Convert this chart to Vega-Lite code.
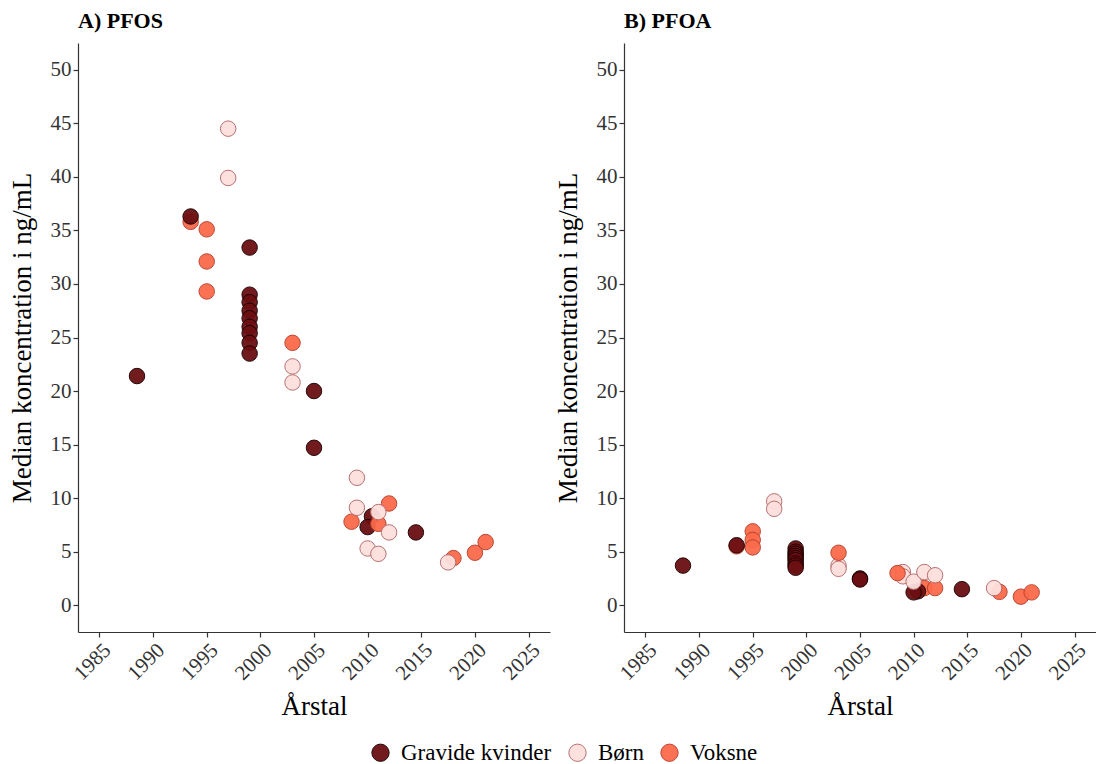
{
  "$schema": "https://vega.github.io/schema/vega-lite/v6.json",
  "background": "white",
  "padding": {"left": 8, "top": 10, "right": 0, "bottom": 4},
  "config": {
    "font": "Liberation Serif",
    "view": {"stroke": null},
    "axis": {
      "grid": false,
      "labelFont": "Liberation Serif",
      "titleFont": "Liberation Serif",
      "labelFontSize": 21,
      "titleFontSize": 27,
      "titleFontWeight": "normal",
      "labelColor": "#333333",
      "titleColor": "#000000",
      "domainColor": "#333333",
      "tickColor": "#333333",
      "domainWidth": 1.2,
      "tickWidth": 1.2,
      "tickSize": 5
    },
    "title": {"font": "Liberation Serif", "fontSize": 22, "fontWeight": "bold", "anchor": "start", "frame": "group", "offset": 10, "color": "#000000"},
    "legend": {"labelFont": "Liberation Serif", "labelFontSize": 23, "labelColor": "#000000", "symbolSize": 300, "symbolStrokeWidth": 1, "columnPadding": 14, "labelOffset": 9}
  },
  "datasets": {
    "pts": [
      {"stof": "PFOS", "aar": 1993.5, "gruppe": "Voksne", "median": 35.8},
      {"stof": "PFOS", "aar": 1995, "gruppe": "Voksne", "median": 35.1},
      {"stof": "PFOS", "aar": 1995, "gruppe": "Voksne", "median": 32.1},
      {"stof": "PFOS", "aar": 1995, "gruppe": "Voksne", "median": 29.3},
      {"stof": "PFOS", "aar": 2003, "gruppe": "Voksne", "median": 24.5},
      {"stof": "PFOS", "aar": 2008.5, "gruppe": "Voksne", "median": 7.8},
      {"stof": "PFOS", "aar": 2012, "gruppe": "Voksne", "median": 9.5},
      {"stof": "PFOS", "aar": 2018, "gruppe": "Voksne", "median": 4.4},
      {"stof": "PFOS", "aar": 2020, "gruppe": "Voksne", "median": 4.9},
      {"stof": "PFOS", "aar": 2021, "gruppe": "Voksne", "median": 5.9},
      {"stof": "PFOS", "aar": 1988.5, "gruppe": "Gravide kvinder", "median": 21.4},
      {"stof": "PFOS", "aar": 1993.5, "gruppe": "Gravide kvinder", "median": 36.3},
      {"stof": "PFOS", "aar": 1999, "gruppe": "Gravide kvinder", "median": 33.4},
      {"stof": "PFOS", "aar": 1999, "gruppe": "Gravide kvinder", "median": 29.0},
      {"stof": "PFOS", "aar": 1999, "gruppe": "Gravide kvinder", "median": 28.3},
      {"stof": "PFOS", "aar": 1999, "gruppe": "Gravide kvinder", "median": 27.5},
      {"stof": "PFOS", "aar": 1999, "gruppe": "Gravide kvinder", "median": 26.8},
      {"stof": "PFOS", "aar": 1999, "gruppe": "Gravide kvinder", "median": 26.0},
      {"stof": "PFOS", "aar": 1999, "gruppe": "Gravide kvinder", "median": 25.4},
      {"stof": "PFOS", "aar": 1999, "gruppe": "Gravide kvinder", "median": 24.5},
      {"stof": "PFOS", "aar": 1999, "gruppe": "Gravide kvinder", "median": 23.5},
      {"stof": "PFOS", "aar": 2005, "gruppe": "Gravide kvinder", "median": 20.0},
      {"stof": "PFOS", "aar": 2005, "gruppe": "Gravide kvinder", "median": 14.7},
      {"stof": "PFOS", "aar": 2010.4, "gruppe": "Gravide kvinder", "median": 8.3},
      {"stof": "PFOS", "aar": 2010, "gruppe": "Gravide kvinder", "median": 7.3},
      {"stof": "PFOS", "aar": 2011, "gruppe": "Voksne", "median": 7.6},
      {"stof": "PFOS", "aar": 2014.5, "gruppe": "Gravide kvinder", "median": 6.8},
      {"stof": "PFOS", "aar": 1997, "gruppe": "Børn", "median": 44.5},
      {"stof": "PFOS", "aar": 1997, "gruppe": "Børn", "median": 39.9},
      {"stof": "PFOS", "aar": 2003, "gruppe": "Børn", "median": 22.3},
      {"stof": "PFOS", "aar": 2003, "gruppe": "Børn", "median": 20.8},
      {"stof": "PFOS", "aar": 2009, "gruppe": "Børn", "median": 11.9},
      {"stof": "PFOS", "aar": 2009, "gruppe": "Børn", "median": 9.1},
      {"stof": "PFOS", "aar": 2011, "gruppe": "Børn", "median": 8.7},
      {"stof": "PFOS", "aar": 2012, "gruppe": "Børn", "median": 6.8},
      {"stof": "PFOS", "aar": 2010, "gruppe": "Børn", "median": 5.3},
      {"stof": "PFOS", "aar": 2011, "gruppe": "Børn", "median": 4.8},
      {"stof": "PFOS", "aar": 2017.5, "gruppe": "Børn", "median": 4.0},

      {"stof": "PFOA", "aar": 1993.5, "gruppe": "Voksne", "median": 5.5},
      {"stof": "PFOA", "aar": 1995, "gruppe": "Voksne", "median": 6.9},
      {"stof": "PFOA", "aar": 1995, "gruppe": "Voksne", "median": 6.1},
      {"stof": "PFOA", "aar": 1995, "gruppe": "Voksne", "median": 5.4},
      {"stof": "PFOA", "aar": 2011, "gruppe": "Voksne", "median": 1.6},
      {"stof": "PFOA", "aar": 2012, "gruppe": "Voksne", "median": 1.6},
      {"stof": "PFOA", "aar": 2018, "gruppe": "Voksne", "median": 1.25},
      {"stof": "PFOA", "aar": 2020, "gruppe": "Voksne", "median": 0.8},
      {"stof": "PFOA", "aar": 2021, "gruppe": "Voksne", "median": 1.2},
      {"stof": "PFOA", "aar": 1988.5, "gruppe": "Gravide kvinder", "median": 3.7},
      {"stof": "PFOA", "aar": 1993.5, "gruppe": "Gravide kvinder", "median": 5.6},
      {"stof": "PFOA", "aar": 1999, "gruppe": "Gravide kvinder", "median": 5.3},
      {"stof": "PFOA", "aar": 1999, "gruppe": "Gravide kvinder", "median": 5.0},
      {"stof": "PFOA", "aar": 1999, "gruppe": "Gravide kvinder", "median": 4.8},
      {"stof": "PFOA", "aar": 1999, "gruppe": "Gravide kvinder", "median": 4.6},
      {"stof": "PFOA", "aar": 1999, "gruppe": "Gravide kvinder", "median": 4.4},
      {"stof": "PFOA", "aar": 1999, "gruppe": "Gravide kvinder", "median": 4.2},
      {"stof": "PFOA", "aar": 1999, "gruppe": "Gravide kvinder", "median": 3.9},
      {"stof": "PFOA", "aar": 1999, "gruppe": "Gravide kvinder", "median": 3.7},
      {"stof": "PFOA", "aar": 1999, "gruppe": "Gravide kvinder", "median": 3.5},
      {"stof": "PFOA", "aar": 2005, "gruppe": "Gravide kvinder", "median": 2.5},
      {"stof": "PFOA", "aar": 2005, "gruppe": "Gravide kvinder", "median": 2.4},
      {"stof": "PFOA", "aar": 2010.4, "gruppe": "Gravide kvinder", "median": 1.3},
      {"stof": "PFOA", "aar": 2010, "gruppe": "Gravide kvinder", "median": 1.2},
      {"stof": "PFOA", "aar": 2014.5, "gruppe": "Gravide kvinder", "median": 1.5},
      {"stof": "PFOA", "aar": 1997, "gruppe": "Børn", "median": 9.7},
      {"stof": "PFOA", "aar": 1997, "gruppe": "Børn", "median": 9.0},
      {"stof": "PFOA", "aar": 2003, "gruppe": "Børn", "median": 3.7},
      {"stof": "PFOA", "aar": 2003, "gruppe": "Børn", "median": 3.4},
      {"stof": "PFOA", "aar": 2003, "gruppe": "Voksne", "median": 4.9},
      {"stof": "PFOA", "aar": 2009, "gruppe": "Børn", "median": 3.1},
      {"stof": "PFOA", "aar": 2009, "gruppe": "Børn", "median": 2.7},
      {"stof": "PFOA", "aar": 2008.5, "gruppe": "Voksne", "median": 3.0},
      {"stof": "PFOA", "aar": 2010, "gruppe": "Børn", "median": 2.2},
      {"stof": "PFOA", "aar": 2011, "gruppe": "Børn", "median": 3.1},
      {"stof": "PFOA", "aar": 2012, "gruppe": "Børn", "median": 2.8},
      {"stof": "PFOA", "aar": 2017.5, "gruppe": "Børn", "median": 1.6}
    ]
  },
  "resolve": {"scale": {"x": "independent", "y": "independent", "fill": "shared", "stroke": "shared"}},
  "spacing": 4,
  "hconcat": [
    {
      "title": "A) PFOS",
      "width": 472,
      "height": 589,
      "data": {"name": "pts"},
      "transform": [{"filter": "datum.stof === 'PFOS'"}],
      "mark": {"type": "circle", "size": 240, "strokeWidth": 1, "opacity": 0.95},
      "encoding": {
        "x": {"field": "aar", "type": "quantitative", "title": "Årstal",
              "scale": {"domain": [1983, 2027], "nice": false, "zero": false},
              "axis": {"values": [1985, 1990, 1995, 2000, 2005, 2010, 2015, 2020, 2025], "format": "d", "labelAngle": -45, "labelAlign": "right", "labelBaseline": "top", "titlePadding": 10}},
        "y": {"field": "median", "type": "quantitative", "title": "Median koncentration i ng/mL",
              "scale": {"domain": [-2.5, 52.5], "nice": false, "zero": false},
              "axis": {"values": [0, 5, 10, 15, 20, 25, 30, 35, 40, 45, 50], "titlePadding": 14}},
        "fill": {"field": "gruppe", "type": "nominal", "title": null,
                 "scale": {"domain": ["Gravide kvinder", "Børn", "Voksne"], "range": ["#6b0f12", "#fde0dd", "#fb6a4a"]},
                 "legend": {"orient": "none", "direction": "horizontal", "legendX": 291, "legendY": 698}},
        "stroke": {"field": "gruppe", "type": "nominal", "title": null,
                   "scale": {"domain": ["Gravide kvinder", "Børn", "Voksne"], "range": ["#1a0000", "#b56a6a", "#b8402c"]},
                   "legend": {"orient": "none", "direction": "horizontal", "legendX": 291, "legendY": 698}}
      }
    },
    {
      "title": "B) PFOA",
      "width": 472,
      "height": 589,
      "data": {"name": "pts"},
      "transform": [{"filter": "datum.stof === 'PFOA'"}],
      "mark": {"type": "circle", "size": 240, "strokeWidth": 1, "opacity": 0.95},
      "encoding": {
        "x": {"field": "aar", "type": "quantitative", "title": "Årstal",
              "scale": {"domain": [1983, 2027], "nice": false, "zero": false},
              "axis": {"values": [1985, 1990, 1995, 2000, 2005, 2010, 2015, 2020, 2025], "format": "d", "labelAngle": -45, "labelAlign": "right", "labelBaseline": "top", "titlePadding": 10}},
        "y": {"field": "median", "type": "quantitative", "title": "Median koncentration i ng/mL",
              "scale": {"domain": [-2.5, 52.5], "nice": false, "zero": false},
              "axis": {"values": [0, 5, 10, 15, 20, 25, 30, 35, 40, 45, 50], "titlePadding": 14}},
        "fill": {"field": "gruppe", "type": "nominal", "title": null,
                 "scale": {"domain": ["Gravide kvinder", "Børn", "Voksne"], "range": ["#6b0f12", "#fde0dd", "#fb6a4a"]},
                 "legend": {"orient": "none", "direction": "horizontal", "legendX": 291, "legendY": 698}},
        "stroke": {"field": "gruppe", "type": "nominal", "title": null,
                   "scale": {"domain": ["Gravide kvinder", "Børn", "Voksne"], "range": ["#1a0000", "#b56a6a", "#b8402c"]},
                   "legend": {"orient": "none", "direction": "horizontal", "legendX": 291, "legendY": 698}}
      }
    }
  ]
}
